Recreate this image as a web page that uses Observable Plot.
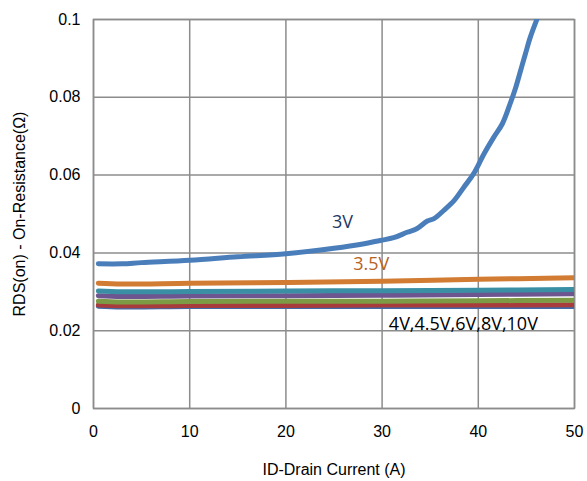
<!DOCTYPE html>
<html><head><meta charset="utf-8">
<script src="https://cdn.jsdelivr.net/npm/d3@7"></script>
<script src="https://cdn.jsdelivr.net/npm/@observablehq/plot@0.6"></script>
<style>body{margin:0;background:#fff}</style>
</head><body><div id="chart"></div>
<script>
// 3V curve
const x3V = [0.5, 3, 5, 10, 15, 20, 25, 28, 29.8, 31.2, 32.6, 33.6, 34.7, 35.4, 36.4, 37.5, 38.5, 39.5, 40.6, 41.6, 42.5, 43.3, 43.9, 44.4, 44.9, 45.4, 46.1];
const y3V = [0.0372, 0.0372, 0.0375, 0.0381, 0.0390, 0.0398, 0.0412, 0.0423, 0.0432, 0.0439, 0.0453, 0.0462, 0.0482, 0.0488, 0.0509, 0.0535, 0.0569, 0.0603, 0.0655, 0.0697, 0.0732, 0.0783, 0.0826, 0.0869, 0.0912, 0.0954, 0.1001];
// flat series
const xFlat = [0.5, 3, 10, 20, 30, 40, 50];
const y35V = [0.0322, 0.0320, 0.0322, 0.0324, 0.0327, 0.0332, 0.0336];
const y4V  = [0.0302, 0.0300, 0.0301, 0.0302, 0.0303, 0.0304, 0.0306];
const y45V = [0.0290, 0.0288, 0.0289, 0.0290, 0.0291, 0.0293, 0.0295];
const y6V  = [0.0276, 0.0274, 0.0275, 0.0276, 0.0276, 0.0277, 0.0278];
const y8V  = [0.0266, 0.0264, 0.0265, 0.0265, 0.0266, 0.0266, 0.0267];
const y10V = [0.0263, 0.0261, 0.0262, 0.0262, 0.0262, 0.0262, 0.0262];
const seriesNames = ["3V", "3.5V", "4V", "4.5V", "6V", "8V", "10V"];
const seriesColors = ["#4a7ebb", "#d27b32", "#3a8fa5", "#6d5590", "#7d9b45", "#a83b3b", "#3f6bab"];
const xTicks = [0, 10, 20, 30, 40, 50];
const yTicks = [0, 0.02, 0.04, 0.06, 0.08, 0.1];
const labels = [
  {x: 24.8, y: 0.0479, text: "3V", color: "#1f3864"},
  {x: 27.0, y: 0.0371, text: "3.5V", color: "#b8621f"},
  {x: 30.7, y: 0.0216, text: "4V,4.5V,6V,8V,10V", color: "#000"}
];

const flatY = [y35V, y4V, y45V, y6V, y8V, y10V];
const data = [];
x3V.forEach((x, i) => data.push({s: "3V", x, y: y3V[i]}));
// draw order: bottom-most first
const order = [6, 5, 4, 3, 2, 1];
order.forEach(k => {
  xFlat.forEach((x, i) => data.push({s: seriesNames[k], x, y: flatY[k - 1][i]}));
});

const chart = Plot.plot({
  width: 587, height: 481,
  marginLeft: 93, marginRight: 13, marginTop: 19, marginBottom: 73,
  style: {fontFamily: "Liberation Sans, Arial, sans-serif", fontSize: "16px", color: "#000", background: "#fff"},
  x: {domain: [0, 50], ticks: xTicks, tickSize: 0, tickPadding: 17, label: "ID-Drain Current (A)", labelAnchor: "center", labelOffset: 66, labelArrow: "none"},
  y: {domain: [0, 0.1], ticks: yTicks, tickSize: 0, tickPadding: 13, tickFormat: d => String(d), label: "RDS(on) - On-Resistance(Ω)", labelAnchor: "center", labelOffset: 80, labelArrow: "none"},
  color: {domain: seriesNames, range: seriesColors},
  marks: [
    Plot.gridX(xTicks, {stroke: "#8c8c8c", strokeOpacity: 1, strokeWidth: 1.5}),
    Plot.gridY(yTicks, {stroke: "#8c8c8c", strokeOpacity: 1, strokeWidth: 1.5}),
    Plot.frame({stroke: "#8c8c8c", strokeWidth: 1.5}),
    Plot.line(data, {x: "x", y: "y", z: "s", stroke: "s", strokeWidth: 5, strokeLinecap: "round", strokeLinejoin: "round", curve: "catmull-rom", clip: true}),
    Plot.text(labels, {x: "x", y: "y", text: "text", fill: "color", fontSize: 18, fontFamily: "Open Sans, sans-serif", textAnchor: "start"})
  ]
});
document.getElementById("chart").appendChild(chart);
</script></body></html>
